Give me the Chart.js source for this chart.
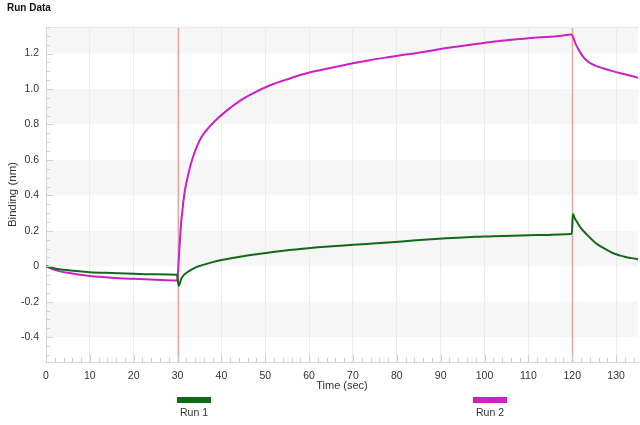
<!DOCTYPE html>
<html>
<head>
<meta charset="utf-8">
<script src="https://cdn.jsdelivr.net/npm/chart.js@4"></script>
<style>
html,body{margin:0;padding:0;background:#fff;}
#wrap{width:640px;height:425px;position:relative;}
</style>
</head>
<body>
<div id="wrap"><canvas id="c"></canvas></div>
<script>
// ---- data ----
const chartTitle = "Run Data";
const xAxisTitle = "Time (sec)";
const yAxisTitle = "Binding (nm)";
const xTicks = [0,10,20,30,40,50,60,70,80,90,100,110,120,130];
const yTicks = [-0.4,-0.2,0,0.2,0.4,0.6,0.8,1.0,1.2];
const stepMarkers = [30, 120];

const run1Time = [0,2,5,10,15,20,25,29.9,30.25,30.9,31.6,32.5,33.6,34.8,36.2,37.8,40,42.2,45,48,51,55,58.6,62,66.2,70,73.8,78,83.7,87,91.3,95,98.9,102,106.5,110,114.1,117,119.9,120.15,120.6,121.1,122,123.3,124.3,125.4,127,129.2,131,132.2,133.5,135];
const run1Binding = [0,-0.012,-0.022,-0.033,-0.038,-0.042,-0.045,-0.048,-0.11,-0.067,-0.045,-0.029,-0.013,0.0,0.011,0.022,0.035,0.045,0.057,0.068,0.078,0.09,0.099,0.107,0.115,0.121,0.127,0.134,0.145,0.151,0.158,0.163,0.167,0.17,0.172,0.175,0.177,0.18,0.183,0.295,0.27,0.25,0.215,0.18,0.155,0.13,0.105,0.075,0.06,0.052,0.046,0.04];

const run2Time = [0,2,5,10,15,20,25,29.9,30.4,30.75,31.2,31.7,32.5,33.3,34.4,35.5,37.1,39.3,42.2,44.6,47.2,51,54.8,58.6,62.4,66.2,70,73.8,77.6,80.6,85.2,89.7,94,98.9,103,108,112,117.1,119.8,120.9,122,122.8,124,125.4,127,129.2,132,135];
const run2Binding = [0,-0.02,-0.037,-0.055,-0.065,-0.071,-0.076,-0.08,0.093,0.224,0.337,0.431,0.525,0.6,0.675,0.731,0.782,0.838,0.897,0.94,0.976,1.02,1.053,1.083,1.106,1.126,1.145,1.163,1.178,1.189,1.206,1.225,1.24,1.257,1.27,1.282,1.291,1.299,1.308,1.248,1.2,1.173,1.148,1.131,1.117,1.101,1.083,1.064];

const seriesLabels = ["Run 1", "Run 2"];
const seriesColors = ["#13691a", "#cc1fc4"];

const FONT = "'Liberation Sans', Arial, sans-serif";

const toPoints = (xs, ys) => xs.map((x, i) => ({x: x, y: ys[i]}));

const decorPlugin = {
  id: 'decor',
  beforeDraw(chart) {
    const {ctx, chartArea: a, scales: {y}} = chart;
    ctx.save();
    for (let i = 0; i < yTicks.length; i++) {
      const v = yTicks[i];
      if (Math.round(v / 0.2) % 2 !== 0) continue;
      const top = i + 1 < yTicks.length ? y.getPixelForValue(yTicks[i + 1]) : a.top;
      const bot = y.getPixelForValue(v);
      ctx.fillStyle = '#f6f6f6';
      ctx.fillRect(a.left, top, a.right - a.left, bot - top);
    }
    ctx.restore();
  },
  beforeDatasetsDraw(chart) {
    const {ctx, chartArea: a, scales: {x}} = chart;
    ctx.save();
    ctx.strokeStyle = '#e2a89e';
    ctx.lineWidth = 1.5;
    stepMarkers.forEach(t => {
      const px = Math.round(x.getPixelForValue(t)) + 0.5;
      ctx.beginPath(); ctx.moveTo(px, a.top); ctx.lineTo(px, a.bottom); ctx.stroke();
    });
    ctx.restore();
  },
  afterDraw(chart) {
    const {ctx, chartArea: a, scales: {x, y}} = chart;
    ctx.save();
    ctx.strokeStyle = '#e6e6e6';
    ctx.lineWidth = 1;
    ctx.beginPath(); ctx.moveTo(a.left, a.top + 0.5); ctx.lineTo(a.right, a.top + 0.5); ctx.stroke();
    ctx.strokeStyle = '#d0d0d0';
    for (let k = -10; k <= 27; k++) {
      const v = k * 0.05;
      const py = Math.round(y.getPixelForValue(v)) + 0.5;
      if (py < a.top || py > a.bottom) continue;
      const major = k % 4 === 0;
      ctx.beginPath(); ctx.moveTo(a.left, py); ctx.lineTo(a.left + (major ? 7 : 4), py); ctx.stroke();
    }
    for (let t = 0; t <= 135; t += 2) {
      const px = Math.round(x.getPixelForValue(t)) + 0.5;
      const major = t % 10 === 0;
      ctx.beginPath(); ctx.moveTo(px, a.bottom); ctx.lineTo(px, a.bottom - (major ? 7 : 4)); ctx.stroke();
    }
    ctx.fillStyle = '#111';
    ctx.font = 'bold 10px ' + FONT;
    ctx.textAlign = 'left'; ctx.textBaseline = 'middle';
    ctx.fillText(chartTitle, 7, 8);
    ctx.fillStyle = '#333';
    ctx.font = '11px ' + FONT;
    ctx.textAlign = 'center';
    ctx.fillText(xAxisTitle, (a.left + a.right) / 2, 386);
    ctx.save();
    ctx.translate(13, (a.top + a.bottom) / 2);
    ctx.rotate(-Math.PI / 2);
    ctx.font = '11.5px ' + FONT;
    ctx.fillText(yAxisTitle, 0, 0);
    ctx.restore();
    const legendX = [177, 473];
    chart.data.datasets.forEach((ds, i) => {
      ctx.fillStyle = ds.borderColor;
      ctx.fillRect(legendX[i], 397, 34, 6);
      ctx.fillStyle = '#333';
      ctx.font = '10.5px ' + FONT;
      ctx.textAlign = 'center';
      ctx.fillText(ds.label, legendX[i] + 17, 413);
    });
    ctx.restore();
  }
};

new Chart(document.getElementById('c'), {
  type: 'line',
  data: {
    datasets: [
      {label: seriesLabels[0], data: toPoints(run1Time, run1Binding), borderColor: seriesColors[0], borderWidth: 2, pointRadius: 0, cubicInterpolationMode: 'monotone', fill: false},
      {label: seriesLabels[1], data: toPoints(run2Time, run2Binding), borderColor: seriesColors[1], borderWidth: 2, pointRadius: 0, cubicInterpolationMode: 'monotone', fill: false}
    ]
  },
  options: {
    responsive: true,
    maintainAspectRatio: false,
    animation: false,
    layout: {padding: {top: 27, right: 2, left: 0, bottom: 0}},
    plugins: {legend: {display: false}, tooltip: {enabled: false}, title: {display: false}},
    scales: {
      x: {
        type: 'linear', min: 0, max: 135,
        afterBuildTicks: s => { s.ticks = xTicks.map(v => ({value: v})); },
        afterFit: s => { s.height = 63; },
        grid: {color: '#ececec', drawTicks: false},
        border: {color: '#d6d6d6'},
        ticks: {padding: 8, color: '#333', font: {family: FONT, size: 10.5}, maxRotation: 0, autoSkip: false}
      },
      y: {
        type: 'linear', min: -0.54, max: 1.35,
        afterBuildTicks: s => { s.ticks = yTicks.map(v => ({value: v})); },
        afterFit: s => { s.width = 46; },
        grid: {display: false, drawTicks: false},
        border: {color: '#d6d6d6'},
        ticks: {padding: 7, color: '#333', font: {family: FONT, size: 10.5},
          callback: v => (Math.abs(v) < 1e-9 ? '0' : v.toFixed(1))}
      }
    }
  },
  plugins: [decorPlugin]
});
</script>
</body>
</html>
